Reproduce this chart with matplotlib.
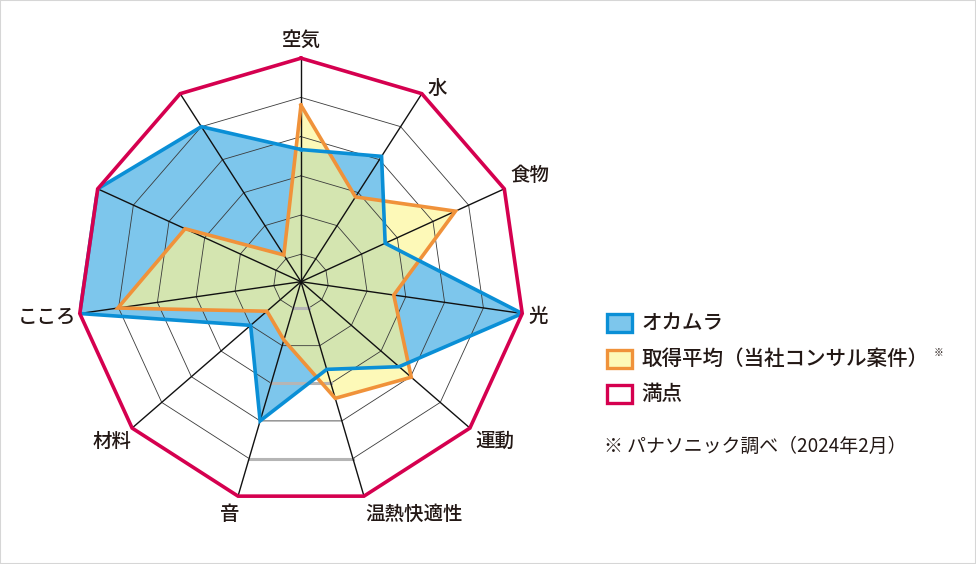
import numpy as np
import matplotlib
matplotlib.use('Agg')
import matplotlib.pyplot as plt
from matplotlib.patches import Rectangle

plt.rcParams['font.family'] = ['Noto Sans CJK JP', 'DejaVu Sans']

categories = ['空気', '水', '食物', '光', '運動', '温熱快適性', '音', '材料', 'こころ', '', '']
okamura = [2.67, 3.1, 1.66, 5.0, 2.61, 1.63, 3.0, 1.0, 5.0, 5.0, 4.0]
average = [3.8, 1.87, 3.63, 1.69, 3.02, 2.4, 0.85, 0.45, 4.02, 2.55, 0.11]
full = [5] * 11
rings = [0, 1, 2, 3, 4]

legend_labels = ['オカムラ', '取得平均（当社コンサル案件）', '満点']
note = '※ パナソニック調べ（2024年2月）'

TXT = '#231815'
BLUE_F, BLUE_E = '#7dc6ec', '#0a8fd6'
YEL_F, YEL_E = '#fdf9b8', '#f0923a'
GREEN = '#d4e5b0'
RED = '#d5004f'

W, H = 976, 564
fig = plt.figure(figsize=(W / 100, H / 100), dpi=100)
fig.patch.set_facecolor('white')
fig.add_artist(Rectangle((0, 0), 1, 1, transform=fig.transFigure, fill=False,
                         edgecolor='#d6d6d6', lw=1.5))

cx, cy, R = 301, 281.7, 223.5
ax = fig.add_axes([(cx - R) / W, (H - cy - R) / H, 2 * R / W, 2 * R / H], projection='polar')
ax.set_theta_offset(np.pi / 2)
ax.set_theta_direction(-1)
ax.set_ylim(-0.7, 5)
ax.set_xticks([])
ax.set_yticks([])
ax.grid(False)
ax.spines['polar'].set_visible(False)
ax.patch.set_visible(False)

n = len(categories)
theta = np.arange(n) * 2 * np.pi / n
tc = np.append(theta, theta[0])


def closed(v):
    return np.append(v, v[0])


# fills
blue_patch = ax.fill(theta, okamura, facecolor=BLUE_F, edgecolor='none', zorder=1)[0]
ax.fill(theta, average, facecolor=YEL_F, edgecolor='none', zorder=1.1)
green = ax.fill(theta, average, facecolor=GREEN, edgecolor='none', zorder=1.2)[0]
green.set_clip_path(blue_patch)

# grid rings and spokes
for k in rings:
    ax.plot(tc, [k] * (n + 1), color='#3a3a3a', lw=0.6, zorder=2)
for k in (0, 2, 4):
    ax.plot(theta[5:7], [k, k], color='#b5b5b5', lw=2.2, zorder=2.1)
for t in theta:
    ax.plot([t, t], [-0.7, 5], color='#111111', lw=1.0, zorder=2.2)

# outlines
ax.plot(tc, closed(average), color=YEL_E, lw=2.6, zorder=3, solid_joinstyle='miter')
ax.plot(tc, closed(okamura), color=BLUE_E, lw=2.6, zorder=3.1, solid_joinstyle='miter')
ax.plot(tc, closed(full), color=RED, lw=2.6, zorder=4, clip_on=False, solid_joinstyle='miter')

# axis labels (offsets in pixels from the outer vertex)
offsets = [(0, 18, 'center'), (6, 5, 'left'), (6, 13, 'left'), (6, -3, 'left'),
           (5, -13, 'left'), (1, -18, 'left'), (1, -18, 'right'), (-1, -13, 'right'),
           (-4, -4, 'right'), (0, 0, 'center'), (0, 0, 'center')]
for t, lab, (dx, dy, ha) in zip(theta, categories, offsets):
    if lab:
        ax.annotate(lab, xy=(t, 5), xytext=(dx, dy), textcoords='offset pixels',
                    ha=ha, va='center', fontsize=14, fontweight='medium', color=TXT,
                    annotation_clip=False)

# legend
def fx(x):
    return x / W


def fy(y):
    return 1 - y / H


leg_y = [323.3, 359, 394.3]
leg_style = [(BLUE_F, BLUE_E), (YEL_F, YEL_E), ('white', RED)]
for y, lab, (fc, ec) in zip(leg_y, legend_labels, leg_style):
    fig.add_artist(Rectangle((fx(607), fy(y + 9)), 25 / W, 18 / H, transform=fig.transFigure,
                             facecolor=fc, edgecolor=ec, lw=2.4))
    fig.text(fx(641), fy(y), lab, fontsize=14.8, fontweight='medium', color=TXT,
             ha='left', va='center')
fig.text(fx(934), fy(353), '※', fontsize=7, color=TXT, ha='left', va='center')
fig.text(fx(604), fy(446), note, fontsize=13.6, color=TXT, ha='left', va='center')

fig.savefig('out.png', dpi=100, facecolor='white')
